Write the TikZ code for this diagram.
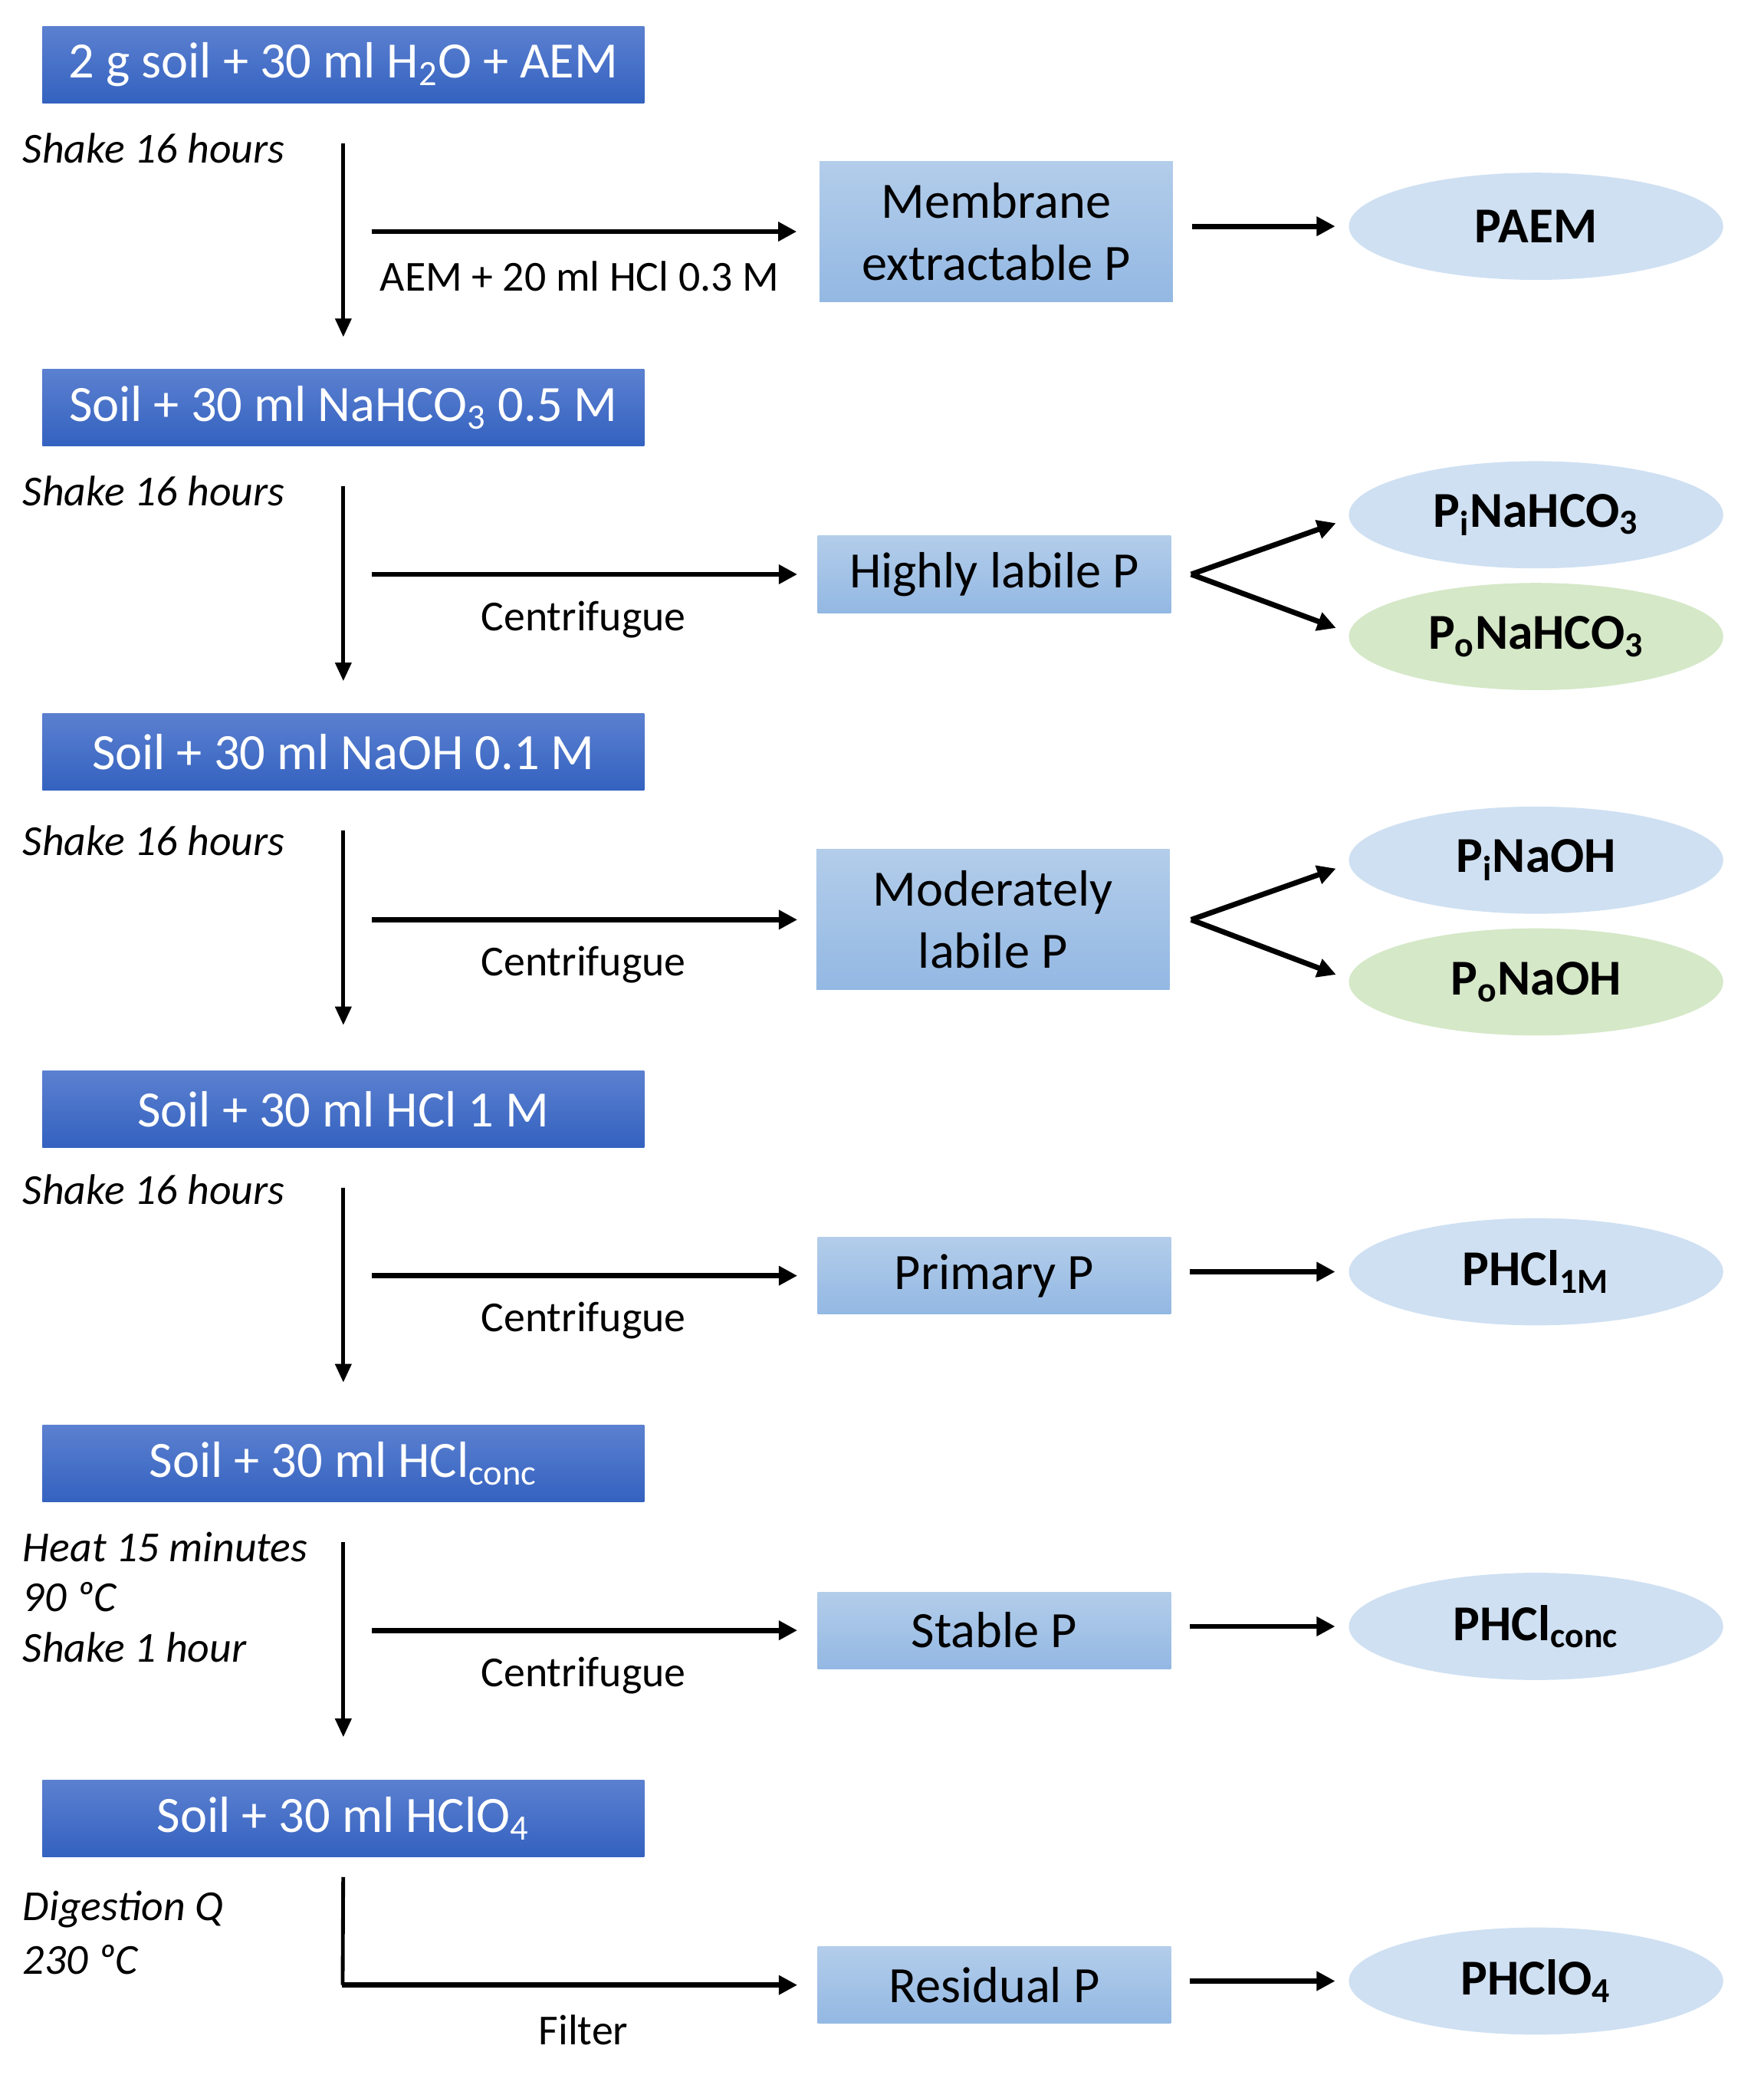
\documentclass[tikz,border=0pt]{standalone}
\usepackage{fontspec}
\setmainfont{Carlito}
\usetikzlibrary{arrows.meta,shapes.geometric,calc}

\definecolor{dkTop}{HTML}{5B80D0}
\definecolor{dkBot}{HTML}{3462C0}
\definecolor{ltTop}{HTML}{B3CDEA}
\definecolor{ltBot}{HTML}{93B8E3}
\definecolor{ellB}{HTML}{CFE0F2}
\definecolor{ellG}{HTML}{D5E8C8}

\newcommand{\mainsz}{\fontsize{21.9}{26.7}\selectfont}
\newcommand{\lblsz}{\fontsize{18.4}{22}\selectfont}
\newcommand{\ellsz}{\fontsize{21.6}{25}\selectfont}

\begin{document}
\begin{tikzpicture}[x=0.02cm,y=-0.02cm,
  darkbox/.style={rectangle, top color=dkTop, bottom color=dkBot, draw=none,
    minimum width=9.1cm, minimum height=1.16cm, text=white, font=\mainsz, inner sep=0pt},
  lightbox/.style={rectangle, top color=ltTop, bottom color=ltBot, draw=none,
    minimum width=5.34cm, minimum height=1.16cm, font=\mainsz, align=center, inner sep=0pt},
  tallbox/.style={lightbox, minimum height=2.12cm},
  resell/.style={ellipse, fill=ellB, minimum width=5.66cm, minimum height=1.62cm,
    font=\ellsz\bfseries, inner sep=0pt},
  orgell/.style={resell, fill=ellG},
  note/.style={anchor=west, font=\lblsz\itshape, inner sep=0pt},
  lbl/.style={font=\lblsz, inner sep=0pt},
  varr/.style={-{Triangle[length=0.28cm,width=0.24cm]}, line width=1.6pt},
  harr/.style={-{Triangle[length=0.28cm,width=0.28cm]}, line width=2.3pt},
]
\useasboundingbox (0,0) rectangle (1333,1568);

% ---- dark step boxes
\node[darkbox] (d1) at (259.5,49)  {2 g soil + 30 ml H\textsubscript{2}O + AEM};
\node[darkbox] (d2) at (259.5,308) {Soil + 30 ml NaHCO\textsubscript{3} 0.5 M};
\node[darkbox] (d3) at (259.5,568) {Soil + 30 ml NaOH 0.1 M};
\node[darkbox] (d4) at (259.5,838) {Soil + 30 ml HCl 1 M};
\node[darkbox] (d5) at (259.5,1106) {Soil + 30 ml HCl\textsubscript{conc}};
\node[darkbox] (d6) at (259.5,1374) {Soil + 30 ml HClO\textsubscript{4}};

% ---- notes
\node[note] (n1) at (17,112) {Shake 16 hours};
\node[note] (n2) at (17,371) {Shake 16 hours};
\node[note] (n3) at (17,635) {Shake 16 hours};
\node[note] (n4) at (17,899) {Shake 16 hours};
\node[note] (n5a) at (17,1169) {Heat 15 minutes};
\node[note] (n5b) at (17,1207) {90 ºC};
\node[note] (n5c) at (17,1245) {Shake 1 hour};
\node[note] (n6a) at (17,1443) {Digestion Q};
\node[note] (n6b) at (17,1481) {230 ºC};

% ---- fraction boxes
\node[tallbox]  (f1) at (753,175)    {Membrane\\extractable P};
\node[lightbox] (f2) at (751.5,434)  {Highly labile P};
\node[tallbox]  (f3) at (750.5,695)  {Moderately\\labile P};
\node[lightbox] (f4) at (751.5,964)  {Primary P};
\node[lightbox] (f5) at (751.5,1232) {Stable P};
\node[lightbox] (f6) at (751.5,1500) {Residual P};

% ---- result ellipses
\node[resell] (e1)  at (1161,171)  {PAEM};
\node[resell] (e2i) at (1161,389)  {P\textsubscript{i}NaHCO\textsubscript{3}};
\node[orgell] (e2o) at (1161,481)  {P\textsubscript{o}NaHCO\textsubscript{3}};
\node[resell] (e3i) at (1161,650)  {P\textsubscript{i}NaOH};
\node[orgell] (e3o) at (1161,742)  {P\textsubscript{o}NaOH};
\node[resell] (e4)  at (1161,961)  {PHCl\textsubscript{1M}};
\node[resell] (e5)  at (1161,1229) {PHCl\textsubscript{conc}};
\node[resell] (e6)  at (1161,1497) {PHClO\textsubscript{4}};

% ---- vertical arrows
\draw[varr, shorten <=0.6cm, shorten >=0.48cm] (d1.south) -- (d2.north);
\draw[varr, shorten <=0.6cm, shorten >=0.48cm] (d2.south) -- (d3.north);
\draw[varr, shorten <=0.6cm, shorten >=0.68cm] (d3.south) -- (d4.north);
\draw[varr, shorten <=0.6cm, shorten >=0.64cm] (d4.south) -- (d5.north);
\draw[varr, shorten <=0.6cm, shorten >=0.64cm] (d5.south) -- (d6.north);

% ---- horizontal arrows to fraction boxes
\coordinate (h1) at (281,175);
\coordinate (h2) at (281,434);
\coordinate (h3) at (281,695);
\coordinate (h4) at (281,964);
\coordinate (h5) at (281,1232);
\coordinate (c6) at (259,1500);
\draw[harr, shorten >=0.34cm] (h1) -- (f1.west);
\draw[harr, shorten >=0.3cm] (h2) -- (f2.west);
\draw[harr, shorten >=0.28cm] (h3) -- (f3.west);
\draw[harr, shorten >=0.3cm] (h4) -- (f4.west);
\draw[harr, shorten >=0.3cm] (h5) -- (f5.west);
\draw[line width=1.6pt, shorten <=0.3cm] (d6.south) -- (c6);
\draw[harr, shorten >=0.3cm] ($(c6)+(-0.8,0)$) -- (f6.west);

\node[lbl] (l1) at (438,209)  {AEM + 20 ml HCl 0.3 M};
\node[lbl] (l2) at (441,468)  {Centrifugue};
\node[lbl] (l3) at (441,729)  {Centrifugue};
\node[lbl] (l4) at (441,998)  {Centrifugue};
\node[lbl] (l5) at (441,1266) {Centrifugue};
\node[lbl] (l6) at (441,1534) {Filter};

% ---- arrows to result ellipses
\draw[harr, shorten <=0.28cm, shorten >=0.2cm] (f1.east |- e1) -- (e1.west);
\draw[harr, shorten <=0.28cm, shorten >=0.2cm] (f4.east |- e4) -- (e4.west);
\draw[harr, shorten <=0.28cm, shorten >=0.2cm] (f5.east |- e5) -- (e5.west);
\draw[harr, shorten <=0.28cm, shorten >=0.2cm] (f6.east |- e6) -- (e6.west);

\coordinate (k2) at ($(f2.east)+(15,0)$);
\coordinate (k3) at ($(f3.east)+(16,0)$);
\draw[harr, line join=miter, shorten >=0.2cm] (k2) -- ($(e2i.west)+(0,3)$);
\draw[harr, line join=miter, shorten >=0.2cm] (k2) -- ($(e2o.west)+(0,-3)$);
\draw[harr, line join=miter, shorten >=0.2cm] (k3) -- ($(e3i.west)+(0,3)$);
\draw[harr, line join=miter, shorten >=0.2cm] (k3) -- ($(e3o.west)+(0,-2)$);
\end{tikzpicture}
\end{document}
